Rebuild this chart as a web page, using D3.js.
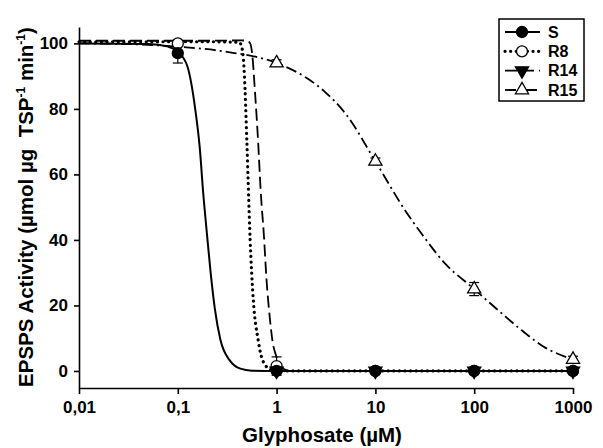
<!DOCTYPE html>
<html>
<head>
<meta charset="utf-8">
<script src="https://cdn.jsdelivr.net/npm/d3@7"></script>
<style>
  body { margin: 0; background: #fff; }
  svg { font-family: "Liberation Sans", Arial, sans-serif; font-weight: bold; }
  .axis path, .axis line { stroke: #000; stroke-width: 1.6; }
  .axis text { font-size: 17px; font-weight: bold; fill: #000; }
</style>
</head>
<body>
<svg width="603" height="448"></svg>
<script>
// tick values and labels
var xTicks = [0.01, 0.1, 1, 10, 100, 1000],
    xTickLabels = ["0,01", "0,1", "1", "10", "100", "1000"],
    yTicks = [0, 20, 40, 60, 80, 100];

// measured points (mean and error)
var sConc = [0.1, 1, 10, 100, 1000],
    sMean = [97, 0, 0, 0, 0],
    sErr = [3, 0, 0, 0, 0];

var r8Conc = [0.1, 1, 10, 100, 1000],
    r8Mean = [100, 1.5, 0, 0, 0],
    r8Err = [0, 2.8, 0, 0, 0];

var r14Conc = [1, 10, 100, 1000],
    r14Mean = [0, 0, 0, 0],
    r14Err = [0, 0, 0, 0];

var r15Conc = [1, 10, 100, 1000],
    r15Mean = [94, 64, 25, 3.5],
    r15Err = [1, 1, 2, 1];

// fitted curves
var sFitX = [0.01, 0.05, 0.08, 0.1, 0.125, 0.15, 0.167, 0.18, 0.197, 0.215, 0.237, 0.27, 0.34, 0.43, 0.56, 1, 10, 100, 1000],
    sFitY = [100, 99.8, 99, 97.5, 93, 80, 68, 55, 42, 30, 19, 9.5, 3, 0.7, 0.1, 0, 0, 0, 0];

var r8FitX = [0.01, 0.2, 0.42, 0.45, 0.473, 0.5, 0.54, 0.58, 0.65, 0.7, 0.76, 0.86, 1.05, 10, 100, 1000],
    r8FitY = [100.5, 100.5, 100.3, 98, 90, 70, 40, 22, 9.5, 4.5, 2, 0.5, 0, 0, 0, 0];

var r14FitX = [0.01, 0.2, 0.44, 0.5, 0.54, 0.565, 0.605, 0.65, 0.69, 0.745, 0.79, 0.855, 0.91, 0.98, 1.05, 1.1, 1.2, 1.43, 10, 100, 1000],
    r14FitY = [100.8, 100.8, 100.9, 100.8, 100, 97, 85, 70, 55, 41, 28, 16, 9, 5, 2.5, 1.5, 0.5, 0, 0, 0, 0];

var r15FitX = [0.01, 0.03, 0.1, 0.3, 1, 2, 3, 5, 10, 20, 30, 50, 100, 200, 300, 500, 1000],
    r15FitY = [100, 99.8, 99, 97.5, 94, 89.5, 85.5, 78.5, 64, 49, 41.5, 33, 25, 17, 12.5, 7.5, 3.5];

var legendNames = ["S", "R8", "R14", "R15"];

var svg = d3.select("svg"),
    width = +svg.attr("width"),
    height = +svg.attr("height");

var x = d3.scaleLog().domain([0.01, 1000]).range([79, 573]),
    y = d3.scaleLinear().domain([-5.2, 105]).range([388, 27]);

var styles = {
  S:   {dash: null, width: 2, cap: "butt"},
  R8:  {dash: "0.1 5.5", width: 3.2, cap: "round"},
  R14: {dash: "12 5", width: 1.8, cap: "butt"},
  R15: {dash: "11 4 2 4", width: 1.8, cap: "butt"}
};

// axes
svg.append("g")
    .attr("class", "axis")
    .attr("transform", "translate(0," + y.range()[0] + ")")
    .call(d3.axisBottom(x).tickValues(xTicks)
      .tickFormat(function(d, i) { return xTickLabels[i]; })
      .tickSize(6).tickSizeOuter(0).tickPadding(7));

svg.append("g")
    .attr("class", "axis")
    .attr("transform", "translate(" + x.range()[0] + ",0)")
    .call(d3.axisLeft(y).tickValues(yTicks).tickSize(5).tickSizeOuter(0).tickPadding(6));

// axis titles
svg.append("text")
    .attr("x", 322).attr("y", 442)
    .attr("text-anchor", "middle")
    .attr("font-size", 20.5)
    .text("Glyphosate (µM)");

var yTitle = svg.append("text")
    .attr("transform", "translate(33,207) rotate(-90)")
    .attr("text-anchor", "middle")
    .attr("font-size", 20.5)
    .style("white-space", "pre");
yTitle.append("tspan").text("EPSPS Activity (µmol µg  TSP");
yTitle.append("tspan").attr("font-size", 12).attr("dy", -8).text("-1");
yTitle.append("tspan").attr("dy", 8).text(" min");
yTitle.append("tspan").attr("font-size", 12).attr("dy", -8).text("-1");
yTitle.append("tspan").attr("dy", 8).text(")");

// fitted lines
var line = d3.line()
    .x(function(d) { return x(d[0]); })
    .y(function(d) { return y(d[1]); })
    .curve(d3.curveMonotoneX);

function drawFit(xs, ys, name) {
  var st = styles[name];
  svg.append("path")
      .datum(d3.zip(xs, ys))
      .attr("fill", "none")
      .attr("stroke", "#000")
      .attr("stroke-width", st.width)
      .attr("stroke-linecap", st.cap)
      .attr("stroke-dasharray", st.dash)
      .attr("d", line);
}

drawFit(r15FitX, r15FitY, "R15");
drawFit(r14FitX, r14FitY, "R14");
drawFit(r8FitX, r8FitY, "R8");
drawFit(sFitX, sFitY, "S");

// error bars
function drawErr(xs, means, errs) {
  var data = d3.zip(xs, means, errs).filter(function(d) { return d[2] > 0; });
  var g = svg.append("g").attr("stroke", "#000").attr("stroke-width", 1.2);
  g.selectAll(".v").data(data).enter().append("line")
      .attr("x1", function(d) { return x(d[0]); })
      .attr("x2", function(d) { return x(d[0]); })
      .attr("y1", function(d) { return y(d[1] - d[2]); })
      .attr("y2", function(d) { return y(d[1] + d[2]); });
  [-1, 1].forEach(function(s) {
    g.selectAll(".c" + s).data(data).enter().append("line")
        .attr("x1", function(d) { return x(d[0]) - 5; })
        .attr("x2", function(d) { return x(d[0]) + 5; })
        .attr("y1", function(d) { return y(d[1] + s * d[2]); })
        .attr("y2", function(d) { return y(d[1] + s * d[2]); });
  });
}

drawErr(r15Conc, r15Mean, r15Err);
drawErr(r8Conc, r8Mean, r8Err);
drawErr(sConc, sMean, sErr);

// markers
var markers = {
  S:   {type: d3.symbolCircle, size: 95, fill: "#000", rot: 0},
  R8:  {type: d3.symbolCircle, size: 95, fill: "#fff", rot: 0},
  R14: {type: d3.symbolTriangle, size: 75, fill: "#000", rot: 180},
  R15: {type: d3.symbolTriangle, size: 75, fill: "#fff", rot: 0}
};

function symbolPath(name) {
  return d3.symbol().type(markers[name].type).size(markers[name].size)();
}

function drawMarks(xs, means, name) {
  var m = markers[name];
  svg.append("g").selectAll("path")
      .data(d3.zip(xs, means)).enter().append("path")
      .attr("d", symbolPath(name))
      .attr("transform", function(d) {
        return "translate(" + x(d[0]) + "," + y(d[1]) + ") rotate(" + m.rot + ")";
      })
      .attr("fill", m.fill)
      .attr("stroke", "#000")
      .attr("stroke-width", 1.3);
}

drawMarks(r15Conc, r15Mean, "R15");
drawMarks(r8Conc, r8Mean, "R8");
drawMarks(sConc, sMean, "S");
drawMarks(r14Conc, r14Mean, "R14");

// legend
var legend = svg.append("g");
legend.append("rect")
    .attr("x", 499).attr("y", 19)
    .attr("width", 85).attr("height", 82)
    .attr("fill", "#fff")
    .attr("stroke", "#000")
    .attr("stroke-width", 1.5);

var rowY = d3.scalePoint().domain(legendNames).range([32, 90]);

legendNames.forEach(function(name) {
  var st = styles[name], m = markers[name], ry = rowY(name);
  legend.append("line")
      .attr("x1", 505).attr("x2", 540)
      .attr("y1", ry).attr("y2", ry)
      .attr("stroke", "#000")
      .attr("stroke-width", st.width)
      .attr("stroke-linecap", st.cap)
      .attr("stroke-dasharray", st.dash);
  legend.append("path")
      .attr("d", symbolPath(name))
      .attr("transform", "translate(522," + ry + ") rotate(" + m.rot + ")")
      .attr("fill", m.fill)
      .attr("stroke", "#000")
      .attr("stroke-width", 1.3);
  legend.append("text")
      .attr("x", 548).attr("y", ry)
      .attr("dy", "0.36em")
      .attr("font-size", 16)
      .text(name);
});
</script>
</body>
</html>
